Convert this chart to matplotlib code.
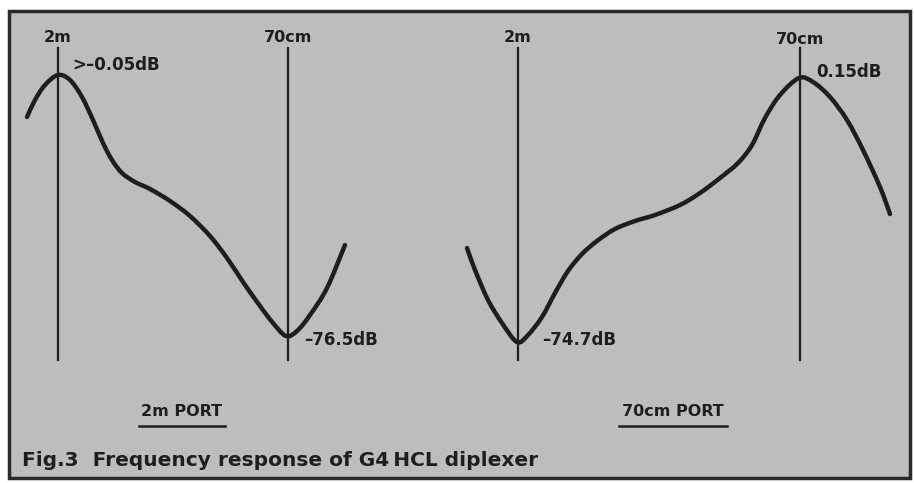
import matplotlib
matplotlib.use('Agg')
import matplotlib.pyplot as plt
from matplotlib.patches import Rectangle, PathPatch
from matplotlib.path import Path

plt.rcParams['font.family'] = ['DejaVu Sans']

# curve (x, y in picture units, y grows downward)
port2m_x = [27, 35, 45, 58, 70, 82, 93, 103, 112, 122, 135, 150, 170, 190, 210,
            227, 243, 260, 273, 286, 297, 310, 327, 345]
port2m_y = [117, 100, 85, 75, 80, 97, 120, 143, 160, 173, 182, 189, 201, 216, 236,
            258, 282, 306, 323, 336, 331, 315, 288, 245]

port70_x = [467, 475, 488, 502, 517, 528, 542, 555, 568, 582, 597, 615, 635, 655,
            680, 700, 720, 738, 752, 765, 780, 799, 813, 830, 847, 863, 880, 890]
port70_y = [248, 270, 300, 323, 342, 335, 317, 293, 271, 254, 241, 229, 221, 215,
            205, 193, 178, 163, 145, 118, 95, 78, 82, 97, 120, 150, 187, 214]

marker_x = [58, 288, 518, 800]
marker_names = ['2m', '70cm', '2m', '70cm']
marker_label_y = [38, 38, 37, 40]

notes = ['>\u20130.05dB', '\u201376.5dB', '\u201374.7dB', '0.15dB']
notes_x = [72, 304, 542, 816]
notes_y = [65, 340, 340, 72]

ports = ['2m PORT', '70cm PORT']
ports_x = [182, 673]
ports_half = [43, 54]

caption = 'Fig.3  Frequency response of G4\u2009HCL diplexer'

ink = '#1e1e1e'
bg = '#bdbdbd'


def smooth_path(xs, ys):
    # draw the read points as a smooth curve (Catmull-Rom as cubic Bezier)
    pts = list(zip(xs, ys))
    verts = [pts[0]]
    codes = [Path.MOVETO]
    for i in range(len(pts) - 1):
        p0 = pts[max(i - 1, 0)]
        p1 = pts[i]
        p2 = pts[i + 1]
        p3 = pts[min(i + 2, len(pts) - 1)]
        c1 = (p1[0] + (p2[0] - p0[0]) / 6, p1[1] + (p2[1] - p0[1]) / 6)
        c2 = (p2[0] - (p3[0] - p1[0]) / 6, p2[1] - (p3[1] - p1[1]) / 6)
        verts += [c1, c2, p2]
        codes += [Path.CURVE4] * 3
    return Path(verts, codes)


fig = plt.figure(figsize=(9.14, 4.83), dpi=100)
fig.patch.set_facecolor('white')
ax = fig.add_axes([0, 0, 1, 1])
ax.set_xlim(0, 914)
ax.set_ylim(483, 0)
ax.axis('off')

ax.add_patch(Rectangle((9, 11), 901, 467, facecolor=bg, edgecolor='#2a2a2a', lw=2.5))

# vertical marker lines
for x, name, ly in zip(marker_x, marker_names, marker_label_y):
    ax.plot([x, x], [48, 360], color=ink, lw=1.6)
    ax.text(x, ly, name, ha='center', va='center', fontsize=11.5,
            fontweight='bold', color=ink)

for xs, ys in [(port2m_x, port2m_y), (port70_x, port70_y)]:
    ax.add_patch(PathPatch(smooth_path(xs, ys), facecolor='none', edgecolor=ink,
                           lw=3.2, capstyle='round', joinstyle='round'))

for t, x, y in zip(notes, notes_x, notes_y):
    ax.text(x, y, t, ha='left', va='center', fontsize=12, fontweight='bold', color=ink)

for t, x, half in zip(ports, ports_x, ports_half):
    ax.text(x, 411, t, ha='center', va='center', fontsize=11.5,
            fontweight='bold', color=ink)
    ax.plot([x - half, x + half], [426, 426], color=ink, lw=1.8)

ax.text(22, 460, caption, ha='left', va='center', fontsize=14.5,
        fontweight='bold', color=ink)

fig.savefig('out.png', dpi=100, facecolor='white')
